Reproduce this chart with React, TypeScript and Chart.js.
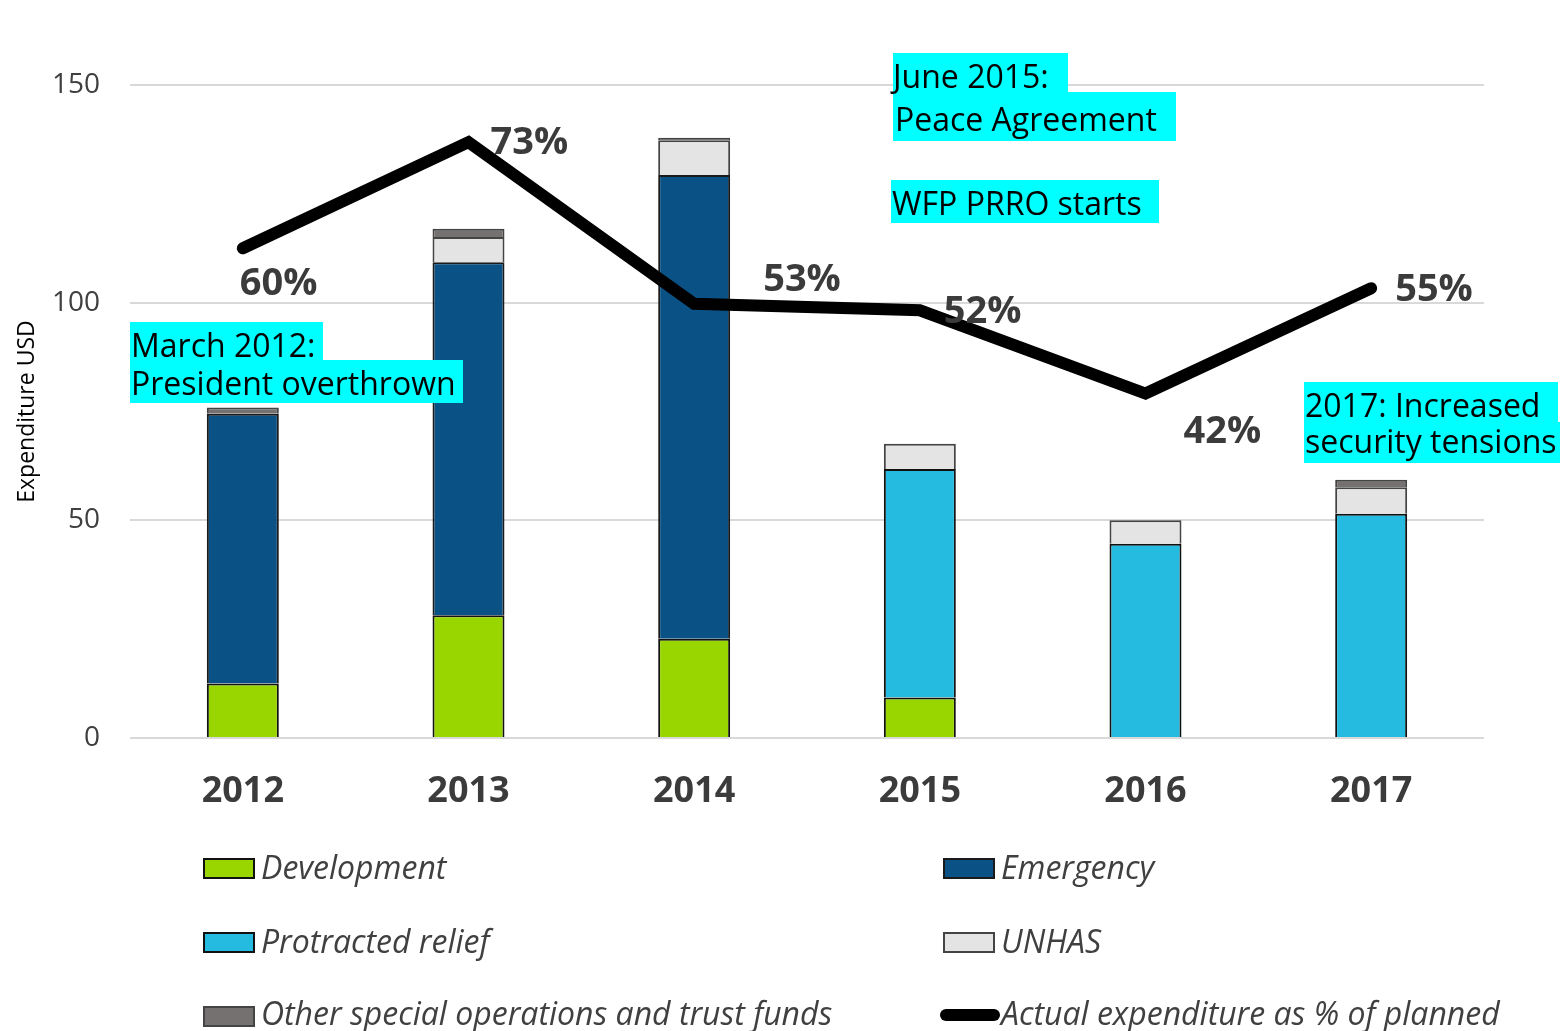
import React, { useEffect, useRef } from 'react';
import { Chart, registerables } from 'chart.js';

Chart.register(...registerables);

// ---------- data ----------
const categories = ['2012', '2013', '2014', '2015', '2016', '2017'];
const development = [12.5, 28.2, 22.8, 9.3, null, null];
const emergency = [62.0, 81.1, 106.5, null, null, null];
const protractedRelief = [null, null, null, 52.5, 44.6, 51.5];
const unhas = [null, 5.8, 8.0, 5.8, 5.4, 6.1];
const otherSpecial = [1.4, 1.9, 0.6, null, null, 1.7];
const actualPctOfPlanned = [60.0, 73.0, 53.2, 52.4, 42.2, 55.1];
const yTickValues = [0, 50, 100, 150];

const seriesNames = [
  'Development',
  'Emergency',
  'Protracted relief',
  'UNHAS',
  'Other special operations and trust funds',
  'Actual expenditure as % of planned',
];

const annotationTexts = [
  'March 2012:',
  'President overthrown',
  'June 2015:',
  'Peace Agreement',
  'WFP PRRO starts',
  '2017: Increased',
  'security tensions',
];

// ---------- styles ----------
const FONT = "'Open Sans', sans-serif";
const COLORS = {
  development: '#99d600',
  emergency: '#0a5185',
  protracted: '#25bbe0',
  unhas: '#e4e4e4',
  other: '#767171',
};
// [rectX, rectY, rectW, rectH, textX, baseline]
const annotationBoxes = [
  [130, 322, 193, 40, 131, 357],
  [130, 360, 333, 43, 131, 395],
  [893, 53, 175, 44, 893, 88],
  [893, 92, 283, 49, 895, 131],
  [891, 180, 268, 43, 892, 215],
  [1304, 382, 254, 41, 1305, 417],
  [1304, 422, 256, 41, 1305, 453],
];
// label offset from line point [dx, dy(baseline)]
const pctLabelOffsets = [
  [-3, 47],
  [22, 12],
  [69, -13],
  [24, 13],
  [38, 49],
  [24, 13],
];

const overlayPlugin = {
  id: 'overlay',
  afterDatasetsDraw(chart: any) {
    const ctx = chart.ctx;
    const meta = chart.getDatasetMeta(5);
    ctx.save();
    ctx.font = `bold 38px ${FONT}`;
    ctx.fillStyle = '#3b3b3b';
    ctx.textAlign = 'left';
    ctx.textBaseline = 'alphabetic';
    meta.data.forEach((pt: any, i: number) => {
      const [dx, dy] = pctLabelOffsets[i];
      ctx.fillText(`${Math.round(actualPctOfPlanned[i])}%`, pt.x + dx, pt.y + dy);
    });
    ctx.restore();
  },
  afterDraw(chart: any) {
    const ctx = chart.ctx;
    ctx.save();
    // annotations
    ctx.font = `32px ${FONT}`;
    ctx.textAlign = 'left';
    ctx.textBaseline = 'alphabetic';
    annotationBoxes.forEach(([x, y, w, h]) => {
      ctx.fillStyle = '#00ffff';
      ctx.fillRect(x, y, w, h);
    });
    annotationBoxes.forEach(([, , , , tx, ty], i) => {
      ctx.fillStyle = '#000000';
      ctx.fillText(annotationTexts[i], tx, ty);
    });

    // legend
    const colX = [203, 943];
    const rowY = [858, 932, 1006];
    const baselines = [879, 953, 1025];
    ctx.font = `italic 32px ${FONT}`;
    chart.data.datasets.forEach((ds: any, i: number) => {
      const col = i % 2;
      const row = Math.floor(i / 2);
      const x = colX[col];
      const y = rowY[row];
      if (ds.type === 'line') {
        ctx.strokeStyle = '#000';
        ctx.lineWidth = 12;
        ctx.lineCap = 'round';
        ctx.beginPath();
        ctx.moveTo(x + 3, y + 9);
        ctx.lineTo(x + 51, y + 9);
        ctx.stroke();
      } else {
        ctx.fillStyle = ds.backgroundColor;
        ctx.fillRect(x, y, 52, 21);
        ctx.strokeStyle = ds.borderColor;
        ctx.lineWidth = 2;
        ctx.strokeRect(x + 1, y + 1, 50, 19);
      }
      ctx.fillStyle = '#404040';
      ctx.fillText(ds.label, x + 58, baselines[row]);
    });
    ctx.restore();
  },
};

export default function App() {
  const canvasRef = useRef<HTMLCanvasElement | null>(null);

  useEffect(() => {
    const canvas = canvasRef.current;
    if (!canvas) return;
    const barCommon = {
      type: 'bar' as const,
      yAxisID: 'y',
      borderWidth: 2,
      barPercentage: 0.319,
      categoryPercentage: 1,
      order: 1,
    };
    const chart = new Chart(canvas, {
      type: 'bar',
      data: {
        labels: categories,
        datasets: [
          { ...barCommon, label: seriesNames[0], data: development, backgroundColor: COLORS.development, borderColor: '#111111' },
          { ...barCommon, label: seriesNames[1], data: emergency, backgroundColor: COLORS.emergency, borderColor: '#1a1a1a' },
          { ...barCommon, label: seriesNames[2], data: protractedRelief, backgroundColor: COLORS.protracted, borderColor: '#111111' },
          { ...barCommon, label: seriesNames[3], data: unhas, backgroundColor: COLORS.unhas, borderColor: '#444444' },
          { ...barCommon, label: seriesNames[4], data: otherSpecial, backgroundColor: COLORS.other, borderColor: '#444444' },
          {
            type: 'line' as const,
            label: seriesNames[5],
            data: actualPctOfPlanned,
            yAxisID: 'y2',
            borderColor: '#000000',
            backgroundColor: '#000000',
            borderWidth: 12,
            pointRadius: 0,
            tension: 0,
            borderCapStyle: 'round',
            borderJoinStyle: 'miter',
            fill: false,
            order: 0,
          } as any,
        ],
      },
      options: {
        responsive: false,
        animation: false,
        devicePixelRatio: 1,
        layout: { padding: { top: 85, right: 76, left: 0, bottom: 0 } },
        plugins: {
          legend: { display: false },
          tooltip: { enabled: false },
          title: { display: false },
        },
        scales: {
          x: {
            stacked: true,
            grid: { display: false, drawTicks: false },
            border: { display: false },
            ticks: {
              padding: 32,
              color: '#3b3b3b',
              font: { family: FONT, size: 36, weight: 'bold' },
              maxRotation: 0,
            },
            afterFit: (scale: any) => {
              scale.height = 293;
            },
          },
          y: {
            stacked: true,
            min: 0,
            max: 150,
            afterBuildTicks: (scale: any) => {
              scale.ticks = yTickValues.map((v) => ({ value: v }));
            },
            grid: { color: '#d9d9d9', lineWidth: 2, drawTicks: false },
            border: { display: false },
            ticks: {
              padding: 30,
              color: '#404040',
              font: { family: FONT, size: 28 },
            },
            title: {
              display: true,
              text: 'Expenditure USD',
              color: '#000000',
              font: { family: FONT, size: 23 },
              padding: { top: 14, bottom: 0 },
            },
            afterFit: (scale: any) => {
              scale.width = 130;
            },
          },
          y2: {
            display: false,
            min: 0,
            max: 80,
            stacked: false,
          },
        },
      } as any,
      plugins: [overlayPlugin],
    });
    return () => chart.destroy();
  }, []);

  return (
    <div style={{ position: 'absolute', left: 0, top: 0, width: 1560, height: 1031, background: '#ffffff' }}>
      <canvas ref={canvasRef} width={1560} height={1031} style={{ display: 'block', width: 1560, height: 1031 }} />
    </div>
  );
}
